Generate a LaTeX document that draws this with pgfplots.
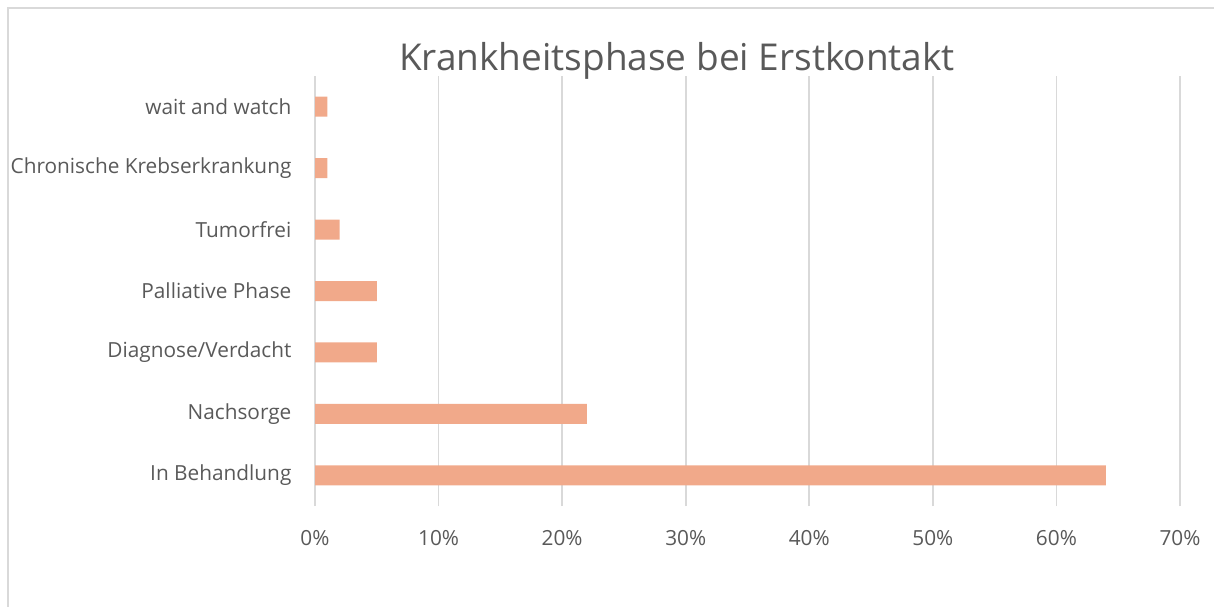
\documentclass[border=0pt]{standalone}
\usepackage{fontspec}
\setmainfont{Open Sans}
\usepackage{pgfplots}
\pgfplotsset{compat=1.18}
\definecolor{barfill}{RGB}{241,169,138}
\definecolor{txtgray}{RGB}{89,89,89}
\definecolor{gridgray}{RGB}{217,217,217}
\begin{document}
\begin{tikzpicture}
  % page = 1214x606 px at 0.5pt per px
  \useasboundingbox (0,0) rectangle (607pt,303pt);
  \draw[gridgray, line width=1pt] (4pt,-10pt) -- (4pt,299pt) -- (620pt,299pt);
  \node[txtgray, font=\fontsize{18.5}{20}\selectfont] at (338.5pt,272.5pt) {Krankheitsphase bei Erstkontakt};
  \begin{axis}[
    at={(157.5pt,50pt)},
    anchor=south west,
    scale only axis,
    width=432.5pt,
    height=215pt,
    xbar,
    bar width=10pt,
    xmin=0, xmax=70,
    ymin=-0.5, ymax=6.5,
    xtick={0,10,...,70},
    xticklabels={0\%,10\%,20\%,30\%,40\%,50\%,60\%,70\%},
    ytick={0,...,6},
    yticklabels={In Behandlung,Nachsorge,Diagnose/Verdacht,Palliative Phase,Tumorfrei,Chronische Krebserkrankung,wait and watch},
    xmajorgrids=true,
    grid style={gridgray, line width=0.8pt},
    axis line style={draw=none},
    tick style={draw=none},
    tick label style={font=\fontsize{10.4}{12}\selectfont, text=txtgray},
    yticklabel style={xshift=-4pt},
    xticklabel style={yshift=-8.5pt},
  ]
    \addplot[fill=barfill, draw=none] coordinates {
      (64,0) (22,1) (5,2) (5,3) (2,4) (1,5) (1,6)
    };
  \end{axis}
\end{tikzpicture}
\end{document}
